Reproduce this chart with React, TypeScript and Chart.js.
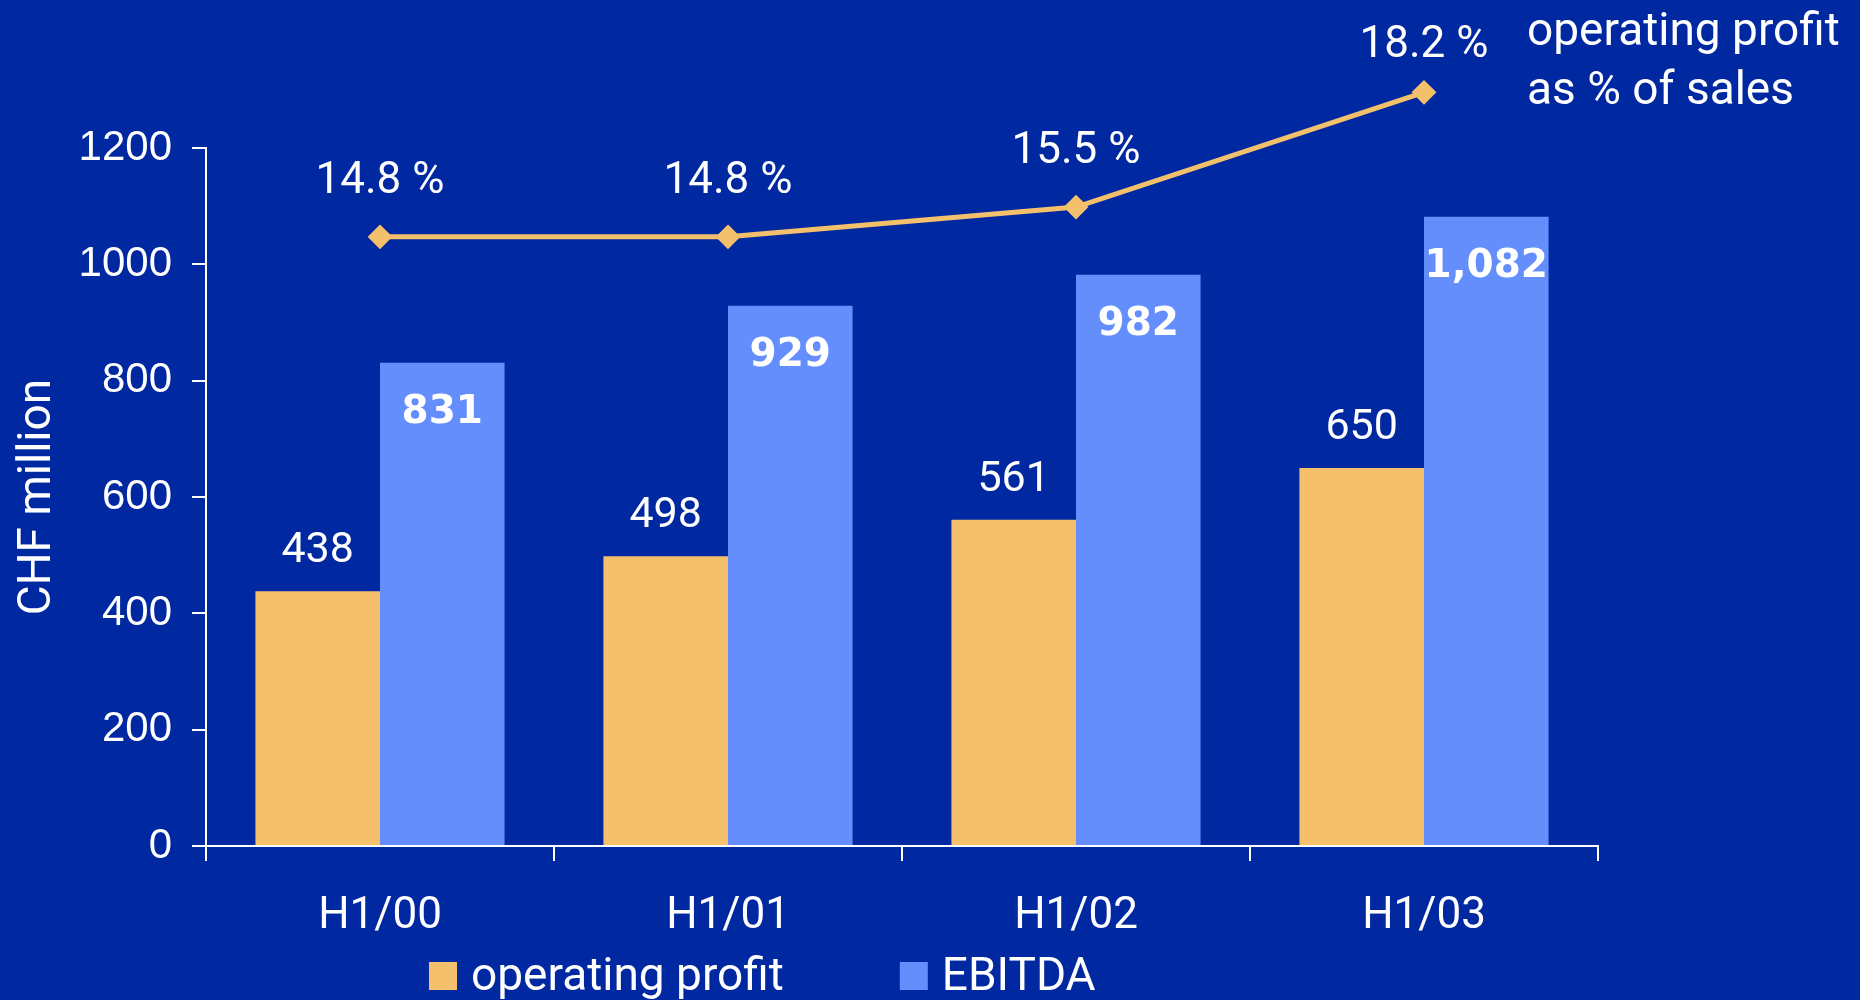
import React, { useEffect, useRef } from "react";
import { Chart, registerables } from "chart.js";

Chart.register(...registerables);

const categories = ["H1/00", "H1/01", "H1/02", "H1/03"];
const operatingProfit = [438, 498, 561, 650];
const ebitda = [831, 929, 982, 1082];
const marginPct = [14.8, 14.8, 15.5, 18.2];
const yTicks = [0, 200, 400, 600, 800, 1000, 1200];
const ebitdaLabels = ["831", "929", "982", "1,082"];
const captionLines = ["operating profit", "as % of sales"];

const BG = "#0028A0";
const ORANGE = "#F5C06C";
const BLUE = "#638EFC";
const WHITE = "#FFFFFF";
const FONT = "Roboto, 'Liberation Sans', Arial, sans-serif";
const TICK_FONT = "'Liberation Sans', Arial, sans-serif";
const BOLD_FONT = "'DejaVu Sans', 'Liberation Sans', Arial, sans-serif";

const labelPlugin = {
  id: "customLabels",
  afterDatasetsDraw(chart: any) {
    const ctx = chart.ctx;
    const area = chart.chartArea;
    ctx.save();

    // points lying above the plot area are skipped by the library; draw them too
    const lineMeta = chart.getDatasetMeta(0);
    lineMeta.data.forEach((pt: any) => {
      if (pt.y < area.top) pt.draw(ctx);
    });

    ctx.fillStyle = WHITE;
    ctx.textAlign = "center";
    ctx.textBaseline = "alphabetic";

    // percentage labels on the line
    ctx.font = `44px ${FONT}`;
    lineMeta.data.forEach((pt: any, i: number) => {
      const txt = marginPct[i].toFixed(1) + " %";
      ctx.fillText(txt, pt.x, Math.max(pt.y - 44, 57));
    });

    // operating profit labels above bars
    const opMeta = chart.getDatasetMeta(1);
    ctx.font = `43px ${FONT}`;
    opMeta.data.forEach((bar: any, i: number) => {
      ctx.fillText(String(operatingProfit[i]), bar.x, bar.y - 29);
    });

    // EBITDA labels inside bars
    const ebMeta = chart.getDatasetMeta(2);
    ctx.font = `bold 39px ${BOLD_FONT}`;
    ebMeta.data.forEach((bar: any, i: number) => {
      ctx.fillText(ebitdaLabels[i], bar.x, bar.y + 60);
    });
    ctx.restore();
  },
  afterDraw(chart: any) {
    const ctx = chart.ctx;
    ctx.save();
    ctx.fillStyle = WHITE;
    ctx.textAlign = "left";
    ctx.textBaseline = "alphabetic";
    ctx.font = `46px ${FONT}`;
    ctx.fillText(captionLines[0], 1527, 45);
    ctx.fillText(captionLines[1], 1527, 104);

    // legend for bar datasets
    let x = 429;
    const boxTop = 962;
    const boxSize = 28;
    const baseline = 990;
    [1, 2].forEach((di) => {
      const ds = chart.data.datasets[di];
      ctx.fillStyle = ds.backgroundColor;
      ctx.fillRect(x, boxTop, boxSize, boxSize);
      ctx.fillStyle = WHITE;
      ctx.font = `46px ${FONT}`;
      const tx = x + 42;
      ctx.fillText(ds.label, tx, baseline);
      x = tx + ctx.measureText(ds.label).width + 116;
    });
    ctx.restore();
  },
};

export default function App() {
  const canvasRef = useRef<HTMLCanvasElement | null>(null);

  useEffect(() => {
    if (!canvasRef.current) return;
    const chart = new Chart(canvasRef.current, {
      type: "bar",
      data: {
        labels: categories,
        datasets: [
          {
            type: "line",
            label: "operating profit as % of sales",
            data: marginPct,
            yAxisID: "y1",
            borderColor: ORANGE,
            backgroundColor: ORANGE,
            borderWidth: 5,
            pointStyle: "rectRot",
            pointRadius: 11,
            pointBorderWidth: 2,
            pointBackgroundColor: ORANGE,
            pointBorderColor: ORANGE,
            tension: 0,
            clip: false,
            order: 0,
          } as any,
          {
            type: "bar",
            label: "operating profit",
            data: operatingProfit,
            backgroundColor: ORANGE,
            categoryPercentage: 0.716,
            barPercentage: 1.0,
            yAxisID: "y",
            order: 1,
          },
          {
            type: "bar",
            label: "EBITDA",
            data: ebitda,
            backgroundColor: BLUE,
            categoryPercentage: 0.716,
            barPercentage: 1.0,
            yAxisID: "y",
            order: 1,
          },
        ],
      },
      options: {
        responsive: false,
        animation: false,
        layout: { padding: { left: 0, right: 262, top: 148, bottom: 0 } },
        plugins: {
          legend: { display: false },
          tooltip: { enabled: false },
          title: { display: false },
        },
        scales: {
          x: {
            offset: true,
            grid: {
              offset: true,
              drawOnChartArea: false,
              drawTicks: true,
              tickLength: 15,
              color: WHITE,
              lineWidth: 2,
            },
            border: { color: WHITE, width: 2 },
            ticks: {
              color: WHITE,
              font: { family: FONT, size: 44 },
              padding: 30,
              maxRotation: 0,
            },
            afterFit(scale: any) {
              scale.height = 154;
            },
          },
          y: {
            min: 0,
            max: 1200,
            afterBuildTicks(scale: any) {
              scale.ticks = yTicks.map((v) => ({ value: v }));
            },
            grid: {
              drawOnChartArea: false,
              drawTicks: true,
              tickLength: 14,
              color: WHITE,
              lineWidth: 2,
            },
            border: { color: WHITE, width: 2 },
            ticks: {
              color: WHITE,
              font: { family: TICK_FONT, size: 42 },
              padding: 20,
              callback: (v: any) => String(v),
            },
            title: {
              display: true,
              text: "CHF million",
              color: WHITE,
              font: { family: FONT, size: 46 },
              padding: { top: 11, bottom: 0 },
            },
            afterFit(scale: any) {
              scale.width = 206;
            },
          },
          y1: {
            display: false,
            min: 0.47,
            max: 16.89,
          },
        },
      },
      plugins: [labelPlugin],
    } as any);
    return () => chart.destroy();
  }, []);

  return (
    <div
      style={{
        position: "fixed",
        left: 0,
        top: 0,
        width: 1860,
        height: 1000,
        background: BG,
        overflow: "hidden",
      }}
    >
      <canvas ref={canvasRef} width={1860} height={1000} style={{ display: "block" }} />
    </div>
  );
}
